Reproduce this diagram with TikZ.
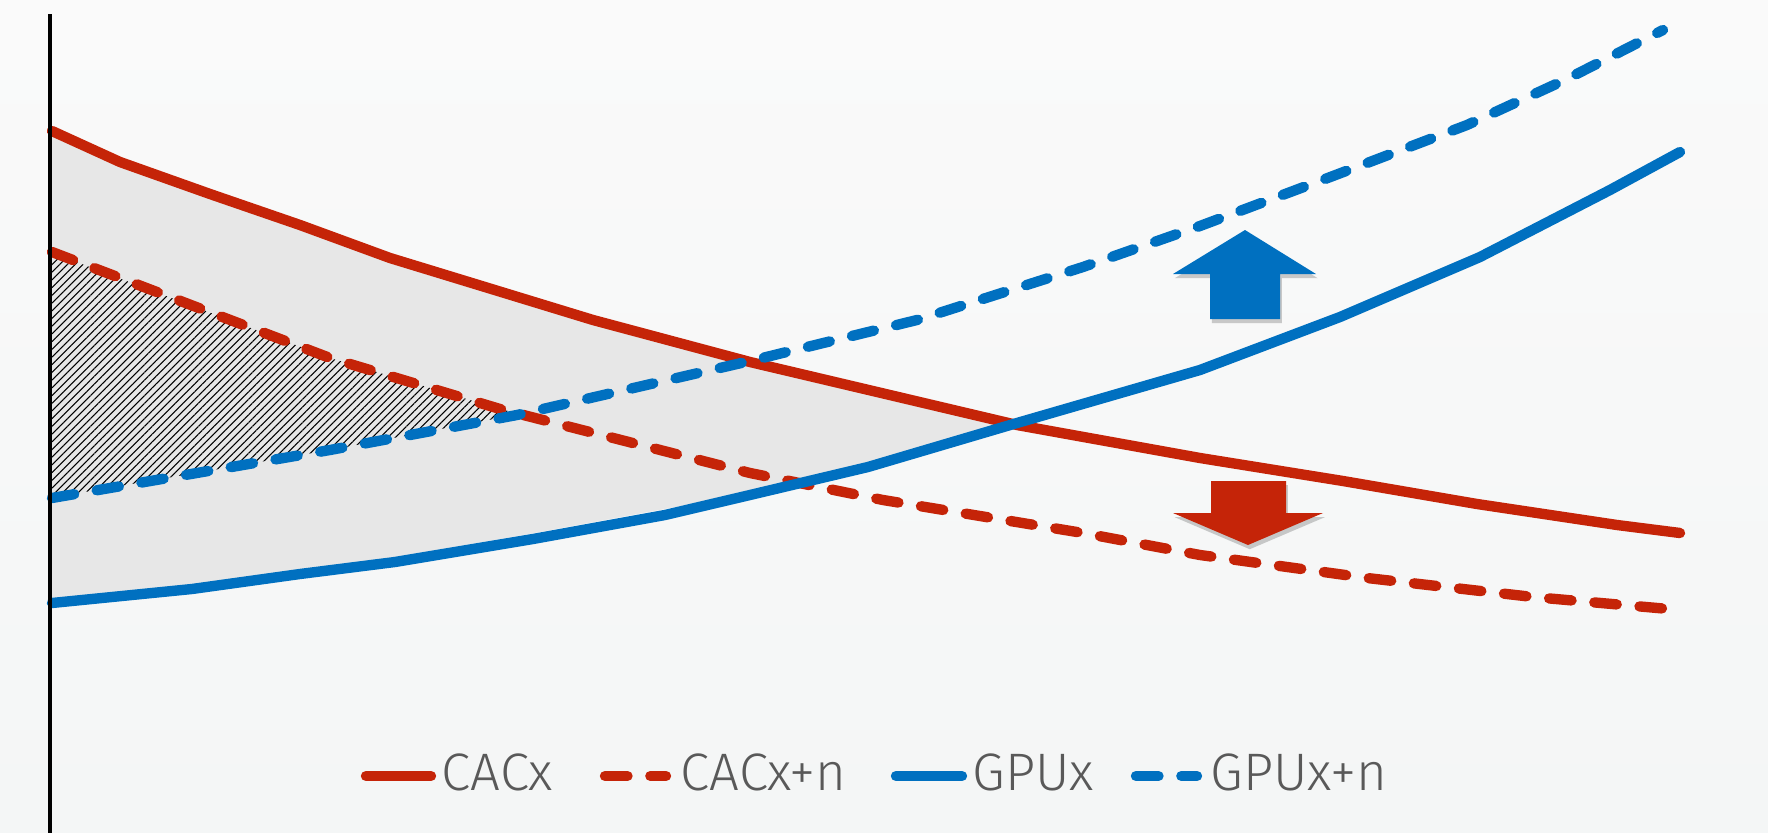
\documentclass[tikz,border=0pt]{standalone}
\usepackage{fontspec}
\newfontfamily\legfont{Fira Sans}[UprightFont={* Light}]
\usetikzlibrary{patterns.meta, shadows, positioning}

\definecolor{cacred}{RGB}{197,36,8}
\definecolor{gpublue}{RGB}{0,112,192}
\definecolor{areagray}{RGB}{231,231,231}
\definecolor{legtext}{RGB}{89,89,89}
\definecolor{bgtop}{RGB}{250,250,250}
\definecolor{bgbot}{RGB}{244,246,246}

\tikzset{
    curve/.style={line width=2.95pt, line join=round, line cap=round},
    cac/.style={curve, cacred},
    gpu/.style={curve, gpublue},
    cacn/.style={cac, dash pattern=on 6.4pt off 6.5pt},
    gpun/.style={gpu, dash pattern=on 6.4pt off 6.5pt},
    blockarrow/.style={drop shadow={shadow xshift=0.5pt, shadow yshift=-1.2pt, opacity=0.4}},
    legtxt/.style={font=\legfont\fontsize{15}{17}\selectfont, text=legtext, inner sep=0pt, anchor=base west},
}

\begin{document}
\begin{tikzpicture}[x=0.01cm, y=-0.01cm]
        \shade[top color=bgtop, bottom color=bgbot] (0,0) rectangle (1768,833);
        \useasboundingbox (0,0) rectangle (1768,833);
        % gap between the solid curves
        \fill[areagray!80!gray!60] (50,126) -- (120,158) -- (210,190) -- (300,221) -- (390,254) -- (593,316)
            -- (750,358) -- (1017,424) -- (883,463) -- (750,493) -- (533,533) -- (300,573) -- (50,603) -- cycle;
        \fill[areagray] (50,130) -- (120,162) -- (210,194) -- (300,225) -- (390,258) -- (593,320)
            -- (750,362) -- (1017,424) -- (883,463) -- (750,493) -- (533,533) -- (300,573) -- (50,603) -- cycle;
        % gap between the dashed curves
        \fill[pattern={Lines[angle=45, distance=1.55pt, line width=0.3pt]}]
            (50,252) -- (330,358) -- (500,409) -- (520,414) -- (330,450) -- (50,498) -- cycle;
        % curves
        \draw[cac] (52,131) -- (120,162) -- (210,194) -- (300,225) -- (390,258) -- (593,320) -- (750,362)
            -- (1017,425) -- (1200,458) -- (1343,481) -- (1477,504) -- (1617,525) -- (1680,533);
        \draw[cacn] (52,252) -- (330,358) -- (500,409) -- (750,473) -- (883,500) -- (1083,533)
            -- (1200,555) -- (1367,578) -- (1533,597) -- (1680,610);
        \draw[gpu] (52,603) -- (192,589) -- (300,574) -- (395,562) -- (533,539) -- (665,515) -- (750,495)
            -- (868,467) -- (1017,423) -- (1200,370) -- (1340,317) -- (1480,257) -- (1610,190) -- (1680,152);
        \draw[gpun] (52,498) -- (330,450) -- (517,415) -- (750,361) -- (917,320) -- (1083,267)
            -- (1200,226) -- (1333,176) -- (1467,125) -- (1567,79) -- (1663,30);
        % axis
        \draw[line width=1.3pt] (50,14) -- (50,833);
        % up / down
        \fill[gpublue, blockarrow] (1245,230) -- (1316,274) -- (1280,274) -- (1280,319)
            -- (1210,319) -- (1210,274) -- (1173,274) -- cycle;
        \fill[cacred, blockarrow] (1211,481) -- (1286,481) -- (1286,513) -- (1323,513)
            -- (1248,545) -- (1173,513) -- (1211,513) -- cycle;
        % legend
        \foreach \s/\t/\a/\b/\c [count=\xi from 1] in {cac/CACx/366/431/441, cacn/CACx+n/605/666/680,
                                                       gpu/GPUx/896/962/972, gpun/GPUx+n/1136/1197/1210}
        {
            \coordinate (k\xi) at (\a,776);
            \coordinate (e\xi) at (\b,776);
            \draw[\s] (k\xi) -- (e\xi);
            \node[legtxt] (t\xi) at (\c,790) {\t};
        }
\end{tikzpicture}
\end{document}
